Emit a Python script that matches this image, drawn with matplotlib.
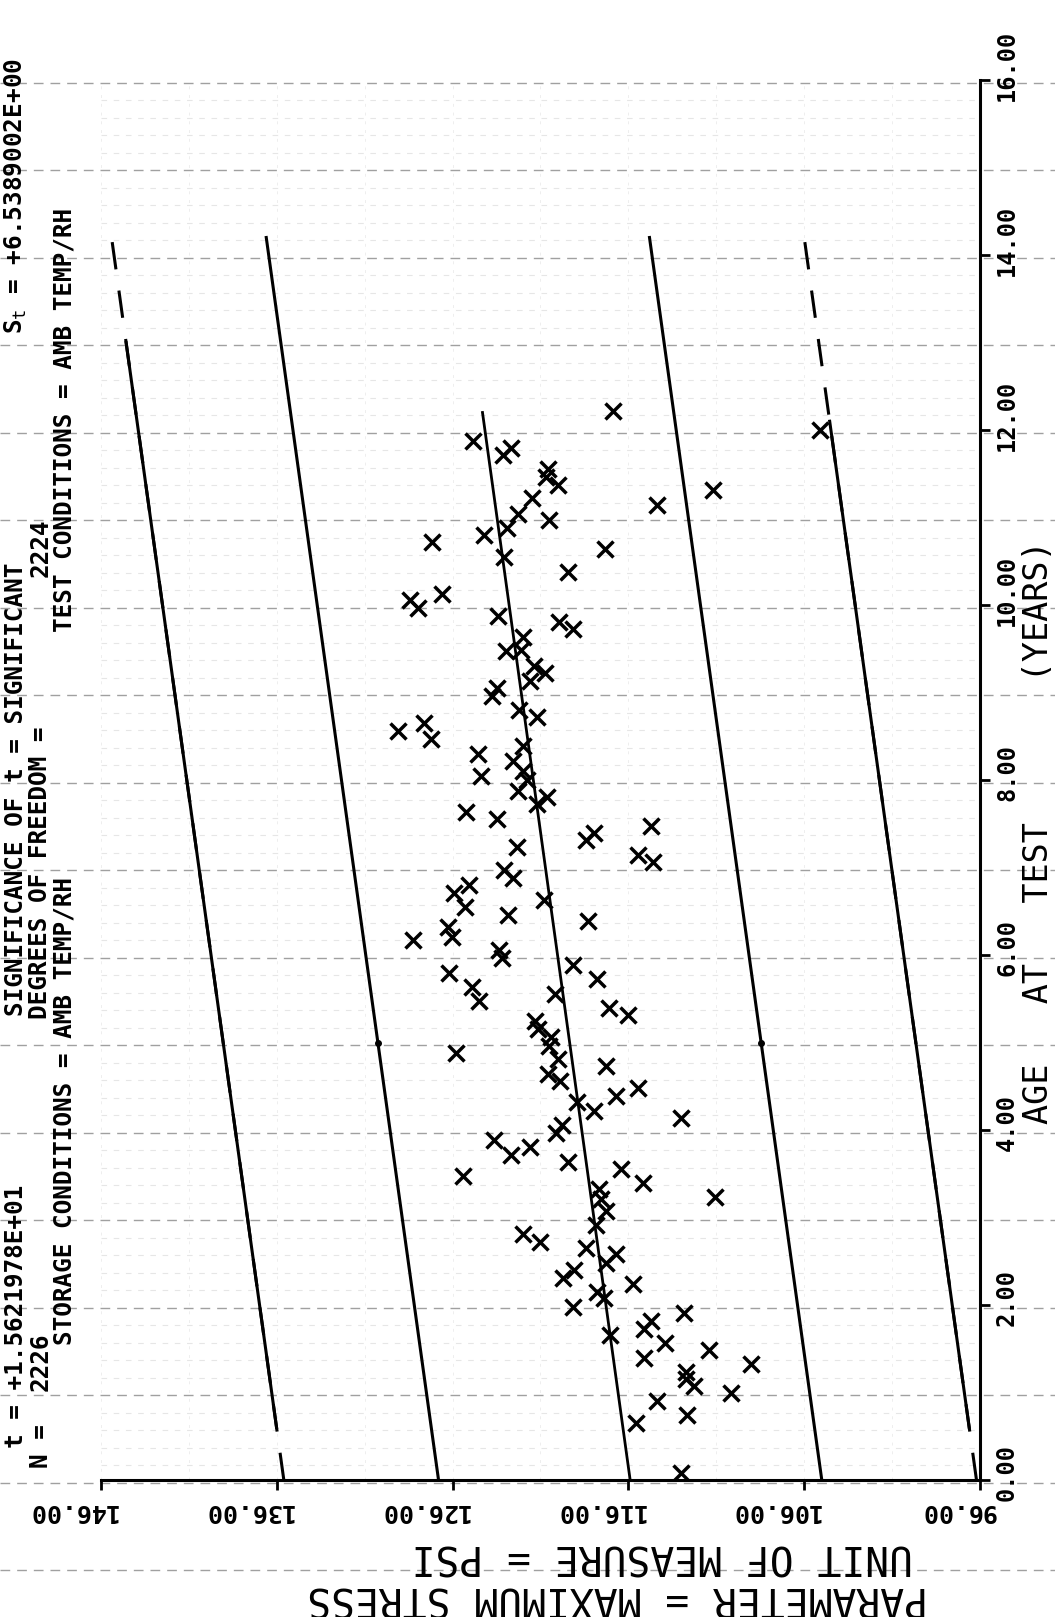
import numpy as np
import matplotlib
matplotlib.use("Agg")
import matplotlib.pyplot as plt
import matplotlib.transforms as mtransforms

# ==========================================
# DATA
# ==========================================
age = [
    12.22, 11.87, 11.79, 11.71, 11.55, 11.46, 11.37, 11.31, 11.22, 11.14,
    11.04, 10.97, 10.80, 10.88, 10.72, 10.64, 10.55, 10.38, 10.13, 10.06,
    9.96, 9.87, 9.80, 9.72, 9.63, 9.47, 9.49,
    9.30, 9.22, 9.13, 9.05, 8.96, 8.80, 8.72, 8.56, 8.65, 8.47,
    8.30, 8.39, 8.22, 8.10, 8.00, 7.87, 8.05, 7.81, 7.72, 7.63,
    7.55, 7.47, 7.39, 7.31, 7.23, 7.14, 7.06, 6.97, 6.88, 6.80,
    6.71, 6.55, 6.63, 6.46, 6.39, 6.32, 6.21, 6.17,
    6.06, 5.96, 5.89, 5.79, 5.73, 5.64, 5.47, 5.56, 5.39, 5.31,
    5.24, 5.15, 5.06, 4.96, 4.88, 4.81, 4.73, 4.64, 4.56, 4.48,
    4.39, 4.32, 4.22, 4.14, 4.06, 3.97, 3.89, 3.81, 3.71, 3.64,
    3.56, 3.47, 3.39, 3.33, 3.23, 3.21, 3.07,
    2.91, 2.81, 2.72, 2.65, 2.58, 2.48, 2.40, 2.31, 2.24, 2.15,
    2.08, 1.98, 1.91, 1.82, 1.73, 1.66, 1.57, 1.49, 1.40, 1.33,
    1.24, 1.16, 1.07, 0.99, 0.90, 0.74, 0.65, 0.08,
    12.00,
]
stress = [
    116.89, 124.86, 122.68, 123.15, 120.59, 120.68, 120.02, 111.16, 121.50, 114.38,
    122.30, 120.49, 124.20, 122.91, 127.20, 117.31, 123.06, 119.45, 126.63, 128.41,
    127.94, 123.44, 119.96, 119.13, 122.01, 122.96, 122.11,
    121.35, 120.74, 121.58, 123.47, 123.78, 122.20, 121.22, 129.09, 127.65, 127.23,
    124.54, 122.01, 122.58, 122.01, 121.77, 122.30, 124.39, 120.63, 121.22, 125.24,
    123.47, 114.70, 117.93, 118.41, 122.35, 115.46, 114.61, 123.06, 122.58, 125.05,
    125.94, 125.30, 120.82, 122.87, 118.27, 126.28, 126.04, 128.28,
    123.34, 123.21, 119.13, 126.23, 117.78, 124.90, 124.48, 120.15, 117.08, 116.03,
    121.31, 121.16, 120.40, 120.49, 125.81, 119.98, 117.27, 120.59, 119.89, 115.46,
    116.70, 118.94, 117.97, 113.00, 119.79, 120.11, 123.66, 121.58, 122.68, 119.41,
    116.41, 125.43, 115.18, 117.65, 111.10, 117.55, 117.27,
    117.84, 122.01, 121.01, 118.41, 116.70, 117.27, 119.11, 119.70, 115.75, 117.78,
    117.36, 119.17, 112.81, 114.74, 115.12, 117.02, 113.91, 111.44, 115.12, 109.01,
    112.71, 112.71, 112.27, 110.19, 114.36, 112.65, 115.56, 113.00,
    105.10,
]

# regression line and limit lines (end points)
fit_age = [0.0, 12.2]
fit_stress = [115.9, 124.3]
band_age = [0.0, 14.2]
inner_upper = [126.8, 136.6]
inner_lower = [105.0, 114.8]
outer_upper = [135.6, 145.4]
outer_lower = [96.2, 106.0]
# outer lines are dashed outside these age ranges
upper_solid = [0.6, 13.0]
lower_solid = [0.6, 12.1]
dot_age = 5.0

psi_ticks = [146, 136, 126, 116, 106, 96]
age_ticks = [0, 2, 4, 6, 8, 10, 12, 14, 16]

# ==========================================
# FIGURE
# ==========================================
W, H = 1055, 1617
fig = plt.figure(figsize=(W / 100, H / 100), dpi=100)
FONT = ["DejaVu Sans Mono", "DejaVu Sans"]
plt.rcParams["mathtext.fontset"] = "dejavusans"

ax = fig.add_axes([101 / W, 1 - 1480 / H, (980 - 101) / W, (1480 - 80) / H])
ax.set_xlim(146, 96)
ax.set_ylim(0, 16)
ax.patch.set_alpha(0)

for side in ["top", "left"]:
    ax.spines[side].set_visible(False)
for side in ["bottom", "right"]:
    ax.spines[side].set_linewidth(2.2)
ax.xaxis.set_ticks_position("bottom")
ax.yaxis.set_ticks_position("right")
ax.set_xticks(psi_ticks)
ax.set_yticks(age_ticks)
ax.set_xticklabels([])
ax.set_yticklabels([])
ax.tick_params(axis="both", direction="out", length=7, width=2)

# paper grid showing through the scan
full_x = mtransforms.blended_transform_factory(fig.transFigure, ax.transData)
for yr in range(-1, 17):
    ax.plot([0, 1], [yr - 0.03, yr - 0.03], transform=full_x, clip_on=False,
            color="#a0a0a0", lw=1.0, dashes=(7, 5), zorder=0)
for yr in np.arange(0.2, 16, 0.2):
    if abs(yr - round(yr)) > 0.05:
        ax.axhline(yr - 0.03, color="#e6e6e6", lw=0.8, dashes=(5, 6), zorder=0)
for p in range(96, 147, 5):
    ax.axvline(p, color="#eeeeee", lw=0.7, dashes=(3, 6), zorder=0)

# limit lines
ax.plot(inner_upper, band_age, color="black", lw=2.2)
ax.plot(inner_lower, band_age, color="black", lw=2.2)
for line, seg_age in [(outer_upper, upper_solid), (outer_lower, lower_solid)]:
    ax.plot(line, band_age, color="black", lw=2.2, dashes=(9, 7))
    ax.plot(np.interp(seg_age, band_age, line), seg_age, color="black", lw=2.2)
ax.plot(fit_stress, fit_age, color="black", lw=2.0)
ax.plot(np.interp([dot_age], band_age, inner_upper), [dot_age], "o",
        color="black", ms=4)
ax.plot(np.interp([dot_age], band_age, inner_lower), [dot_age], "o",
        color="black", ms=4)

# data points
ax.plot(stress, age, "x", color="black", ms=11, mew=2.5, zorder=3)

# ==========================================
# TICK LABELS (plotter style, rotated)
# ==========================================
px = fig.dpi_scale_trans
xlab_tr = mtransforms.blended_transform_factory(ax.transData, ax.transAxes) + \
    mtransforms.ScaledTranslation(16 / 100, -19 / 100, px)
for v in psi_ticks:
    ax.text(v, 0, f"{v:.2f}", transform=xlab_tr, rotation=180, ha="right",
            va="top", fontsize=18, family=FONT, fontweight="bold")

ylab_tr = mtransforms.blended_transform_factory(ax.transAxes, ax.transData) + \
    mtransforms.ScaledTranslation(15 / 100, -21 / 100, px)
for v in age_ticks:
    ax.text(1, v, f"{v:.2f}", transform=ylab_tr, rotation=90, ha="left",
            va="bottom", fontsize=17, family=FONT, fontweight="bold")


def put(x, y, s, rot, size, ha, va, weight="bold"):
    fig.text(x / W, 1 - y / H, s, rotation=rot, ha=ha, va=va, fontsize=size,
             family=FONT, fontweight=weight)


# axis titles
put(1038, 1124, "AGE   AT   TEST       (YEARS)", 90, 24, "center", "bottom",
    "normal")
put(913, 1555, "UNIT OF MEASURE = PSI", 180, 28.5, "right", "center", "normal")
put(928, 1597, "PARAMETER = MAXIMUM STRESS", 180, 28.5, "right", "center",
    "normal")

# header block (three printed lines, rotated)
HS = 17.6
put(16, 1316, "t = +1.5621978E+01", 90, HS, "center", "center")
put(16, 789, "SIGNIFICANCE OF t = SIGNIFICANT", 90, HS, "center", "center")
put(16, 196, r"S$_\mathtt{t}$ = +6.5389002E+00", 90, HS, "center", "center")
put(40.5, 1468, "N =", 90, HS, "center", "bottom")
put(40.5, 1362, "2226", 90, HS, "center", "center")
put(40.5, 873, "DEGREES OF FREEDOM =", 90, HS, "center", "center")
put(40.5, 548, "2224", 90, HS, "center", "center")
put(65, 1111, "STORAGE CONDITIONS = AMB TEMP/RH", 90, HS, "center", "center")
put(65, 420, "TEST CONDITIONS = AMB TEMP/RH", 90, HS, "center", "center")

fig.savefig("out.png", dpi=100)
